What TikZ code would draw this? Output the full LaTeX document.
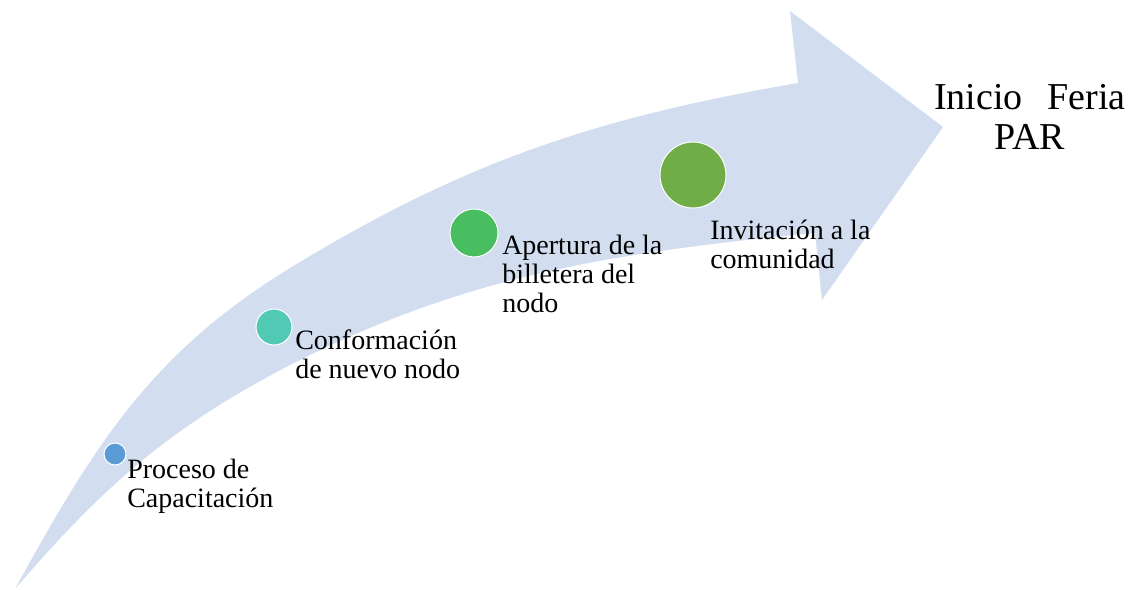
\documentclass[tikz,border=0pt]{standalone}
\usepackage{fontspec}
\setmainfont{Liberation Serif}
\definecolor{bandc}{RGB}{210,222,239}
\definecolor{cA}{RGB}{91,155,213}
\definecolor{cB}{RGB}{82,201,181}
\definecolor{cC}{RGB}{72,190,96}
\definecolor{cD}{RGB}{112,173,71}
\begin{document}
\begin{tikzpicture}[x=0.75pt,y=-0.75pt,
  dot/.style={circle,draw=white,line width=0.75pt,inner sep=0pt,outer sep=0pt},
  lbl/.style={font=\fontsize{21}{21.4}\selectfont,align=left,inner sep=0pt,anchor=base west},
  big/.style={font=\fontsize{28.5}{30}\selectfont,align=center,inner sep=0pt,anchor=base}]
\useasboundingbox (0,0) rectangle (1135,589);
\coordinate (tail) at (15,589);
\coordinate (um) at (300,262);
\coordinate (ue) at (798,83);
\coordinate (hu) at (790,11);
\coordinate (tip) at (943,127);
\coordinate (hl) at (822,300);
\coordinate (le) at (815,233);
\coordinate (lm) at (300,360);
\fill[bandc] (tail) .. controls (97,440) and (154,349) .. (um)
  .. controls (471,159) and (601,117) .. (ue)
  -- (hu) -- (tip) -- (hl) -- (le)
  .. controls (621,252) and (474,273) .. (lm)
  .. controls (175,423) and (106,483) .. (tail) -- cycle;
\node[dot,fill=cA,minimum size=16.5pt] (dA) at (115,454) {};
\node[dot,fill=cB,minimum size=27pt] (dB) at (274,327) {};
\node[dot,fill=cC,minimum size=36pt] (dC) at (474,233) {};
\node[dot,fill=cD,minimum size=49.5pt] (dD) at (693,175) {};
\node[lbl] (tA) at (127,507) {Proceso de\\Capacitación};
\node[lbl] (tB) at (295,378) {Conformación\\de nuevo nodo};
\node[lbl] (tC) at (502,312) {Apertura de la\\billetera del\\nodo};
\node[lbl] (tD) at (710,268) {Invitación a la\\comunidad};
\node[big] (tE) at (1030,149) {Inicio\hspace{0.65em}Feria\\PAR};
\end{tikzpicture}
\end{document}
